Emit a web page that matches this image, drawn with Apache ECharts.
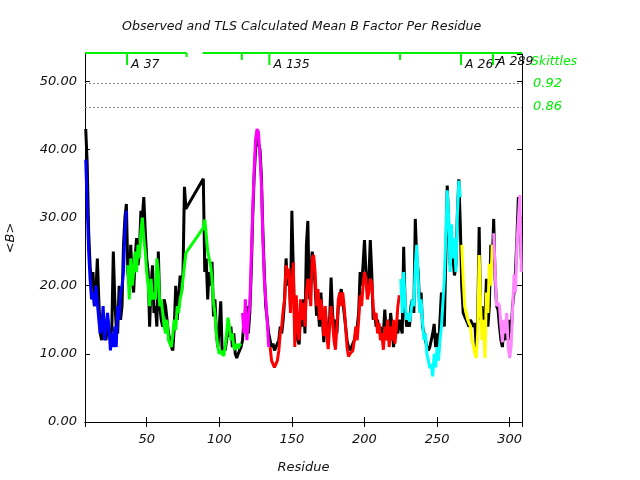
<!DOCTYPE html>
<html><head><meta charset="utf-8">
<script src="https://cdn.jsdelivr.net/npm/echarts@6/dist/echarts.min.js"></script>
<style>html,body{margin:0;padding:0;background:#fff}#c{width:640px;height:480px}</style>
</head><body><div id="c"></div>
<script>
// ---- Data (residue numbers are consecutive from each block start) ----
const observedStartA = 8;
const observedA = [43,38,28,23,20,22,17,19,24,18,13,12,15,14,12,15,13,12,14,25,18,14,13,20,15,17,26,30,32,22,
  20,26,21,19,24,27,23,25,31,30,33,28,
  24,22,14,20,23,16,17,14,25,17,15,14,18,17,15,13,12,11,10.5,14,20,15,18,21.5,19,22,34.5,31.3];
const observedStartB = 89;
const observedB = [35.7,22,24,18,22,20,23.5,15.5,18,13,11,14,17.7,10,11,10.5,12,14,12.5,14,11,13,10,9.4,10,10.5,11,
  12,15,14,17,13,16,22,30,36,40,42,42,40,36,28,22,17,15,13,
  12,11,11.5,10.5,11,11,12,14,13,15, 18,24,20,22,17,31,22,13,16,12, 11.4,16,14,18,13,26,29.5,18,22,25,
  23,20,15.6,17,14,19,15,11.7,16,14, 13,15,21.2,16,13,15,13,17,18.5,19.5, 19.5,16,14,12,11,10.5,11,11.5,12,13,
  14,16,22,20,23,26.7,22,19,21,26.7, 22,15,16,14,15,13,14,12,13,16.5, 13,15,12,16,14,11,13,14,13,15,
  14,13,25.7,17,14,15,14,17,18,16, 29.8,24,22,17,19,14,13,12,11,10.5, 11,12,13,14.4,11,13,10.5,15,19,17,
  14,24,34.7,29,23,27,24,21.5,23,30.5, 35.6,29,
  20,16,15.5,15,15,14,15,15,14,14.5,11,15,28.6,15,17,13,15,21,14,17,26,23,29.8,
  21,17,16.5,14,12,11,14,12,15,12,15,13,17,19,22,27,33,30,24];

const tlsBlueStart = 8;
const tlsBlue = [38.5,32,25,21,18,19,17,20,20,15,13,14,17,12,12,16,14,10.5,13,11,14,11,17,15,19,20,22,28,31];
const tlsGreenStartA = 37;
const tlsGreenA = [23,18,24,20,22,25,22,26,24,28,30,27,25,22,20,17,21,18,19,18,24,22,17,18,16,14,13,15,12,11.5,11,13,15,13.5,17,16,18,19,21,23,24.8];
const tlsGreenStartB = 89;
const tlsGreenB = [28.5,29.7,27.5,25,24,23,21,17.5,16,13,11,10,10.5,10,9.7,11,13,15.3,14,12,13,11,10.6,11.5,10.8,11.3,11.5];
const tlsMagentaStart = 116;
const tlsMagenta = [16,13,18,12,15,17,24,31,37,41.5,43,42.5,39,35,27,21,18,15,11];
const tlsRedStart = 135;
const tlsRed = [11,9,8.5,8,8.2,9,10.5,13,14,16.4, 18,23,21,22.5,16,20,23.4,11,18.6,14, 12,18,15,17.5,14,19,21,20,17,24,
  24.5,22,17,19.5,15,18,16,12.6,17,13, 10.7,14,17,15,12,10.6,14,18,19,17, 19,17,14,11,9.6,10,9.8,10.5,12,14,
  12,15,18.6,17,20,22,21,18,19,21, 20.5,17,15,16,13,14.5,12,13,10.6,14, 12,15,11,14,12,15,11.5,14,17,18.6];
const tlsCyanStart = 225;
const tlsCyan = [21,16,22,17.6,15,16,14.7,16,18,17,23,26,21,16,18,14.6,12,13,10,9,7.9,8.5,6.7,10,8,11,9,12,14,17.5,20.8,21,34,30,22,29,24,27,22,30.5,35.4,33];
const tlsYellowStart = 267;
const tlsYellow = [26,21,17,16,15.1,14.5,14.1,12,11.2,10,9.4,13,24.5,17,12,15,9.4,19,16,23.2,20,26];
const tlsPinkStart = 289;
const tlsPink = [27.7,22.1,17,17.5,17,14,11.7,15,13,16,11,9.4,11,16.3,21.6,19,26,29.7,33.3,22];

const groupStarts = [37, 116, 135, 225, 267, 289];
const groupLabels = ['A 37', '', 'A 135', '', 'A 267', 'A 289'];
const skittleValues = ['0.92', '0.86'];
const skittleLevels = [49.65, 46.25];
const xTickLabels = [50, 100, 150, 200, 250, 300];

// ---- Build ----
const pairs = (start, vals) => vals.map((v, i) => [start + i, v]);
const observed = pairs(observedStartA, observedA).concat(pairs(observedStartB, observedB));
const lastA = observedStartA + observedA.length - 1;
const lastB = observedStartB + observedB.length - 1;
const X_MIN = observedStartA - 0.5, X_MAX = lastB + 0.5, Y_MAX = 54;
const FONT = 'DejaVu Sans';
const FS = 13;

const tlsGroups = [
  {data: pairs(tlsBlueStart, tlsBlue), color: '#0000ff'},
  {data: pairs(tlsGreenStartA, tlsGreenA).concat(pairs(tlsGreenStartB, tlsGreenB)), color: '#00ff00'},
  {data: pairs(tlsMagentaStart, tlsMagenta), color: '#ff00ff'},
  {data: pairs(tlsRedStart, tlsRed), color: '#ff0000'},
  {data: pairs(tlsCyanStart, tlsCyan), color: '#00ffff'},
  {data: pairs(tlsYellowStart, tlsYellow), color: '#ffff00'},
  {data: pairs(tlsPinkStart, tlsPink), color: '#ff88ff'}
];

const lineSeries = (data, color) => ({
  type: 'line', data, showSymbol: false, symbol: 'none', animation: false,
  lineStyle: {color, width: 3}, itemStyle: {color}, clip: true
});

const blocks = [[observedStartA - 0.5, lastA + 0.5], [observedStartB - 0.5, lastB + 0.5]];
const tickItems = groupStarts.map((r, i) => [r - 0.5, groupLabels[i] ? 11 : 6, i]);
tickItems.push([lastA + 0.5, 3, -1]);

const chart = echarts.init(document.getElementById('c'));
const axisFont = {fontFamily: FONT, fontStyle: 'italic', fontSize: FS, color: '#111'};
chart.setOption({
  animation: false,
  backgroundColor: '#fff',
  grid: {left: 85, right: 118, top: 54, bottom: 58, containLabel: false, outerBoundsMode: 'none'},
  graphic: [
    {type: 'text', left: 122, top: 20, style: {text: 'Observed and TLS Calculated Mean B Factor Per Residue', font: 'italic 12.6px "DejaVu Sans"', fill: '#111'}},
    {type: 'text', left: 531, top: 55, style: {text: 'Skittles', font: 'italic 12.5px "DejaVu Sans"', fill: '#00ee00'}}
  ],
  xAxis: [
    {type: 'value', min: X_MIN, max: X_MAX, splitNumber: 6, position: 'bottom',
     name: 'Residue', nameLocation: 'middle', nameGap: 39, nameTextStyle: axisFont,
     axisLine: {lineStyle: {color: '#000', width: 1}}, axisTick: {inside: true, length: 5, lineStyle: {color: '#000'}},
     axisLabel: Object.assign({margin: 11, showMinLabel: false, showMaxLabel: false,
       formatter: v => xTickLabels.includes(v) ? String(v) : ''}, axisFont),
     splitLine: {show: false}},
    {type: 'value', min: X_MIN, max: X_MAX, splitNumber: 6, position: 'top',
     axisLine: {lineStyle: {color: '#000', width: 1}}, axisTick: {inside: true, length: 5, lineStyle: {color: '#000'}},
     axisLabel: {show: false}, splitLine: {show: false}}
  ],
  yAxis: [
    {type: 'value', min: 0, max: Y_MAX, interval: 10, position: 'left',
     name: '<B>', nameLocation: 'middle', nameGap: 68, nameRotate: 90, nameTextStyle: axisFont,
     axisLine: {show: true, lineStyle: {color: '#000', width: 1}}, axisTick: {show: true, inside: true, length: 5, lineStyle: {color: '#000'}},
     axisLabel: Object.assign({margin: 8, showMaxLabel: false, formatter: v => v.toFixed(2)}, axisFont),
     splitLine: {show: false}},
    {type: 'value', min: 0, max: Y_MAX, interval: 10, position: 'right',
     axisLine: {show: true, lineStyle: {color: '#000', width: 1}}, axisTick: {show: true, inside: true, length: 5, lineStyle: {color: '#000'}},
     axisLabel: {show: false}, splitLine: {show: false}}
  ],
  series: [
    Object.assign(lineSeries(observed, '#000000'), {
      markLine: {silent: true, symbol: 'none', animation: false,
        lineStyle: {color: '#888', type: [2, 2], width: 1},
        label: {position: 'end', distance: 11, color: '#00ee00', fontFamily: FONT, fontStyle: 'italic', fontSize: FS,
          formatter: p => p.name},
        data: skittleLevels.map((y, i) => ({yAxis: y, name: skittleValues[i]}))}
    }),
    ...tlsGroups.map(g => lineSeries(g.data, g.color)),
    {type: 'custom', clip: false, silent: true, animation: false, data: blocks,
     renderItem: (params, api) => {
       const a = api.coord([api.value(0), Y_MAX]), b = api.coord([api.value(1), Y_MAX]);
       return {type: 'line', shape: {x1: a[0], y1: a[1] - 1, x2: b[0], y2: b[1] - 1}, style: {stroke: '#00ee00', lineWidth: 2}};
     }},
    {type: 'custom', clip: false, silent: true, animation: false, data: tickItems,
     renderItem: (params, api) => {
       const p = api.coord([api.value(0), Y_MAX]);
       const len = api.value(1);
       const idx = api.value(2);
       const children = [{type: 'line', shape: {x1: p[0], y1: p[1] - 1, x2: p[0], y2: p[1] + len}, style: {stroke: '#00ee00', lineWidth: 2}}];
       const lbl = idx >= 0 ? groupLabels[idx] : '';
       if (lbl) {
         children.push({type: 'text', x: p[0] + 4, y: p[1] + (idx === groupLabels.length - 1 ? 8 : 11),
           style: {text: lbl, font: 'italic 12.5px "DejaVu Sans"', fill: '#111', verticalAlign: 'middle', align: 'left'}});
       }
       return {type: 'group', children};
     }}
  ]
});
</script></body></html>
